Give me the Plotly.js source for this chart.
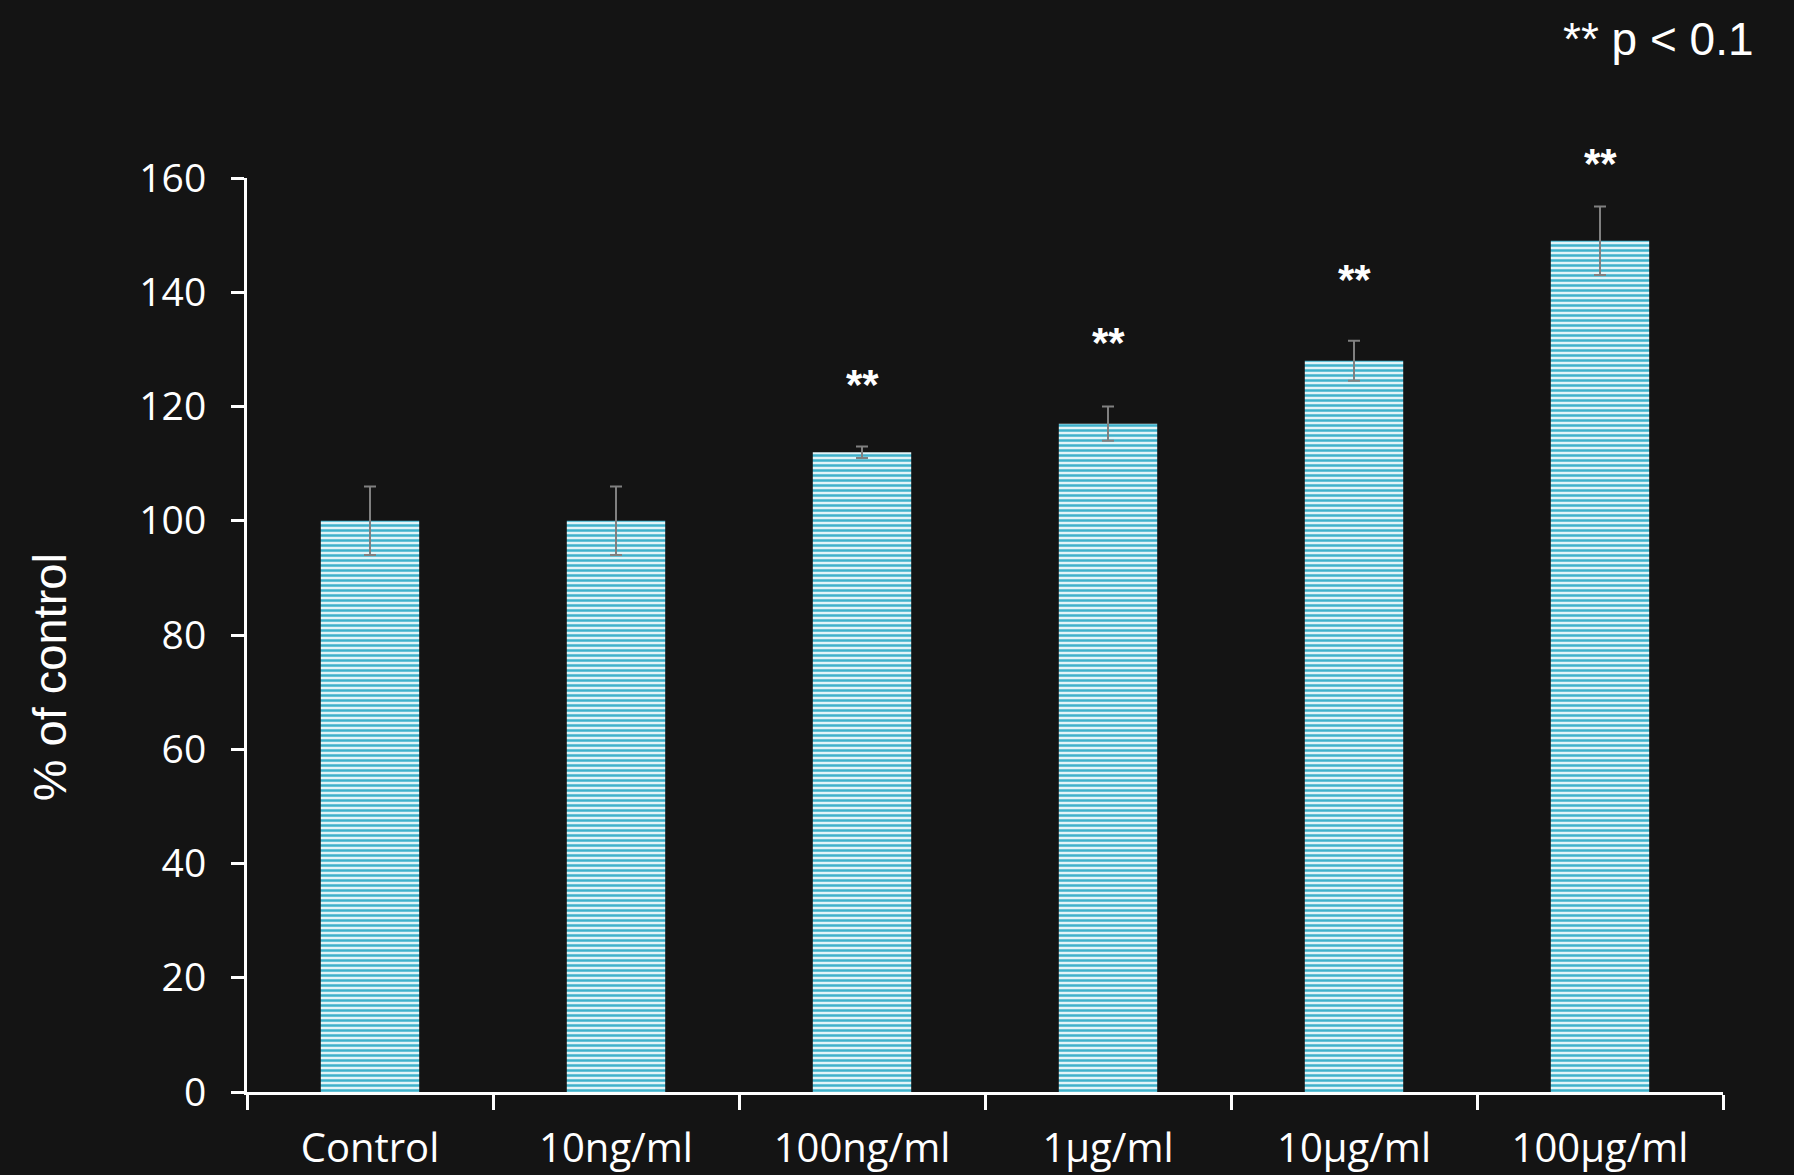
<!DOCTYPE html>
<html>
<head>
<meta charset="utf-8">
<script src="https://cdn.plot.ly/plotly-3.0.1.min.js"></script>
<style>
  html, body { margin: 0; padding: 0; background: #141414; }
  #chart { width: 1794px; height: 1175px; }
</style>
</head>
<body>
<div id="chart"></div>
<script>
const categories = ["Control", "10ng/ml", "100ng/ml", "1\u00b5g/ml", "10\u00b5g/ml", "100\u00b5g/ml"];
const percentOfControl = [100, 100, 112, 117, 128, 149];
const errorValues = [6, 6, 1, 3, 3.5, 6];
const significance = ["", "", "**", "**", "**", "**"];
const significanceY = [null, null, 125, 132.4, 143.4, 163.7];
const yTickValues = [0, 20, 40, 60, 80, 100, 120, 140, 160];
const yRange = [0, 160];

const barTrace = {
  type: "bar",
  x: categories,
  y: percentOfControl,
  width: 0.4,
  marker: {
    color: "#3fb1cb",
    line: { width: 0 },
    pattern: {
      shape: "-",
      fgcolor: "#3fb1cb",
      bgcolor: "#e2f4f8",
      size: 5,
      solidity: 0.5,
      fillmode: "replace"
    }
  },
  error_y: {
    type: "data",
    array: errorValues,
    visible: true,
    color: "#808080",
    thickness: 2,
    width: 6
  },
  hoverinfo: "skip"
};

// significance marks: x on the category axis, y in the y-axis domain (so marks above the range still show)
const starAnnotations = [];
categories.forEach((c, i) => {
  if (significance[i]) {
    starAnnotations.push({
      xref: "x", yref: "y domain",
      x: c, y: (significanceY[i] - yRange[0]) / (yRange[1] - yRange[0]),
      text: significance[i],
      showarrow: false,
      xanchor: "center", yanchor: "middle",
      yshift: -7,
      font: { family: "Liberation Sans, Arial, sans-serif", size: 42, color: "#ffffff", weight: "bold" }
    });
  }
});

const layout = {
  width: 1794,
  height: 1175,
  paper_bgcolor: "#141414",
  plot_bgcolor: "#141414",
  margin: { l: 247, r: 71, t: 178, b: 83 },
  showlegend: false,
  xaxis: {
    type: "category",
    showline: true,
    linecolor: "#ffffff",
    linewidth: 3,
    ticks: "outside",
    tickson: "boundaries",
    ticklen: 15,
    tickwidth: 3,
    tickcolor: "#ffffff",
    showgrid: false,
    zeroline: false,
    tickfont: { family: "Open Sans, sans-serif", size: 40, color: "#ffffff" },
    ticklabelstandoff: 19
  },
  yaxis: {
    range: yRange,
    tickvals: yTickValues,
    showline: true,
    linecolor: "#ffffff",
    linewidth: 3,
    ticks: "outside",
    ticklen: 13,
    tickwidth: 3,
    tickcolor: "#ffffff",
    showgrid: false,
    zeroline: false,
    tickfont: { family: "Open Sans, sans-serif", size: 39, color: "#ffffff" },
    ticklabelstandoff: 17
  },
  annotations: [
    {
      xref: "paper", yref: "paper",
      x: -0.134, y: 0.454,
      text: "% of control",
      textangle: -90,
      showarrow: false,
      xanchor: "center", yanchor: "middle",
      font: { family: "Liberation Sans, Arial, sans-serif", size: 47, color: "#ffffff" }
    },
    {
      xref: "paper", yref: "paper",
      x: 1.0224, y: 1.152,
      text: "** p < 0.1",
      showarrow: false,
      xanchor: "right", yanchor: "middle",
      font: { family: "Liberation Sans, Arial, sans-serif", size: 46, color: "#ffffff" }
    }
  ].concat(starAnnotations)
};

Plotly.newPlot("chart", [barTrace], layout, { staticPlot: true, displayModeBar: false });
</script>
</body>
</html>
